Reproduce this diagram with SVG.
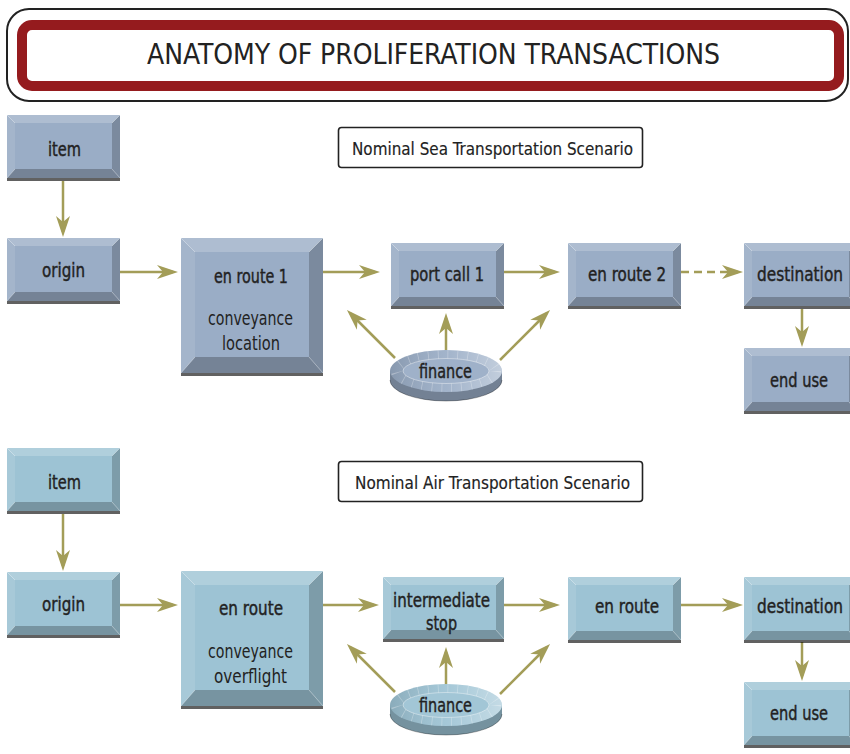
<svg xmlns="http://www.w3.org/2000/svg" width="850" height="754" viewBox="0 0 850 754">
<style>
text{font-family:"DejaVu Sans Condensed","DejaVu Sans",sans-serif;fill:#222;text-anchor:middle}
.lbl{font-size:19px;stroke:#222;stroke-width:0.4}
.sub{font-size:19px}
.scn{font-size:18px;stroke:#222;stroke-width:0.15}
.title{font-size:28px;text-anchor:start}
.sea{fill:#9aadc6}
.air{fill:#9dc3d4}
.con{fill:none;stroke:#a39d58;stroke-width:2.5}
.dash{stroke-dasharray:8 5}
</style>
<defs>
<marker id="ah" markerUnits="userSpaceOnUse" markerWidth="22" markerHeight="16" refX="16" refY="8" orient="auto">
<path d="M0,1 L21,8 L0,15 L6,8 Z" fill="#a39d58"/>
</marker>
<g id="small">
<rect x="0" y="0" width="113" height="63"/>
<polygon points="0,0 113,0 105,8 8,8" fill="#fff" fill-opacity=".2"/>
<polygon points="0,0 8,8 8,54 0,63" fill="#fff" fill-opacity=".1"/>
<polygon points="113,0 113,63 105,54 105,8" fill="#000" fill-opacity=".2"/>
<polygon points="0,63 113,63 105,54 8,54" fill="#000" fill-opacity=".24"/>
<path d="M0,0 L8,8 M113,0 L105,8 M0,63 L8,54 M113,63 L105,54" stroke="#fff" stroke-opacity=".45" stroke-width=".8"/>
<rect x="0" y="63" width="113" height="3" fill="#000" fill-opacity=".62"/>
</g>
<g id="wide">
<rect x="0" y="0" width="121" height="62"/>
<polygon points="0,0 121,0 113,8 8,8" fill="#fff" fill-opacity=".2"/>
<polygon points="0,0 8,8 8,53 0,62" fill="#fff" fill-opacity=".1"/>
<polygon points="121,0 121,62 113,53 113,8" fill="#000" fill-opacity=".2"/>
<polygon points="0,62 121,62 113,53 8,53" fill="#000" fill-opacity=".24"/>
<path d="M0,0 L8,8 M121,0 L113,8 M0,62 L8,53 M121,62 L113,53" stroke="#fff" stroke-opacity=".45" stroke-width=".8"/>
<rect x="0" y="62" width="121" height="3" fill="#000" fill-opacity=".62"/>
</g>
<g id="large">
<rect x="0" y="0" width="142" height="135"/>
<polygon points="0,0 142,0 128,14 14,14" fill="#fff" fill-opacity=".2"/>
<polygon points="0,0 14,14 14,119 0,135" fill="#fff" fill-opacity=".1"/>
<polygon points="142,0 142,135 128,119 128,14" fill="#000" fill-opacity=".2"/>
<polygon points="0,135 142,135 128,119 14,119" fill="#000" fill-opacity=".24"/>
<path d="M0,0 L14,14 M142,0 L128,14 M0,135 L14,119 M142,135 L128,119" stroke="#fff" stroke-opacity=".45" stroke-width=".8"/>
<rect x="0" y="135" width="142" height="3" fill="#000" fill-opacity=".62"/>
</g>
<linearGradient id="dg" x1="0" y1="0" x2="1" y2="0">
<stop offset="0" stop-color="#000" stop-opacity=".12"/>
<stop offset=".5" stop-color="#fff" stop-opacity=".08"/>
<stop offset="1" stop-color="#fff" stop-opacity=".4"/>
</linearGradient>
<clipPath id="dclip"><ellipse cx="0" cy="0" rx="56" ry="21"/></clipPath>
<g id="disk">
<path d="M-56,0 L-56,9 A56,21 0 0 0 56,9 L56,0 Z"/>
<path d="M-56,0 L-56,9 A56,21 0 0 0 56,9 L56,0 Z" fill="#000" fill-opacity=".25"/>
<path d="M-56,9 A56,21 0 0 0 56,9" fill="none" stroke="#000" stroke-opacity=".3" stroke-width="1"/>
<ellipse cx="0" cy="0" rx="56" ry="21"/>
<ellipse cx="0" cy="0" rx="56" ry="21" fill="url(#dg)"/>
<g clip-path="url(#dclip)">
<ellipse cx="0" cy="0" rx="49.5" ry="16.5" fill="none" stroke="#fff" stroke-opacity=".3" stroke-width="11" stroke-dasharray="0.8 9"/>
</g>
<ellipse cx="0" cy="0" rx="43" ry="12.5"/>
<ellipse cx="0" cy="0" rx="43" ry="12.5" fill="#fff" fill-opacity=".06" stroke="#fff" stroke-opacity=".5" stroke-width=".8"/>
</g>
</defs>

<g id="title">
<rect x="7" y="9" width="841" height="92" rx="22" fill="#fff" stroke="#222" stroke-width="2"/>
<rect x="22" y="25" width="817" height="61" rx="10" fill="#fff" stroke="#951b1e" stroke-width="10"/>
<text class="title" x="147" y="64" textLength="573" lengthAdjust="spacing">ANATOMY OF PROLIFERATION TRANSACTIONS</text>
</g>

<g id="connectors">
<line class="con" x1="63" y1="181" x2="63" y2="232" marker-end="url(#ah)"/>
<line class="con" x1="120" y1="272" x2="173" y2="272" marker-end="url(#ah)"/>
<line class="con" x1="323" y1="272" x2="375" y2="272" marker-end="url(#ah)"/>
<line class="con" x1="504" y1="272" x2="555" y2="272" marker-end="url(#ah)"/>
<line class="con dash" x1="681" y1="272" x2="738" y2="272" marker-end="url(#ah)"/>
<line class="con" x1="802" y1="309" x2="802" y2="342" marker-end="url(#ah)"/>
<line class="con" x1="395" y1="358" x2="350.5" y2="313.5" marker-end="url(#ah)"/>
<line class="con" x1="446" y1="352" x2="446" y2="318" marker-end="url(#ah)"/>
<line class="con" x1="500" y1="360" x2="546.5" y2="313.5" marker-end="url(#ah)"/>

<line class="con" x1="63" y1="514" x2="63" y2="566" marker-end="url(#ah)"/>
<line class="con" x1="120" y1="605" x2="173" y2="605" marker-end="url(#ah)"/>
<line class="con" x1="323" y1="605" x2="374" y2="605" marker-end="url(#ah)"/>
<line class="con" x1="504" y1="605" x2="555" y2="605" marker-end="url(#ah)"/>
<line class="con" x1="681" y1="605" x2="738" y2="605" marker-end="url(#ah)"/>
<line class="con" x1="802" y1="642" x2="802" y2="676" marker-end="url(#ah)"/>
<line class="con" x1="395" y1="692" x2="350.5" y2="647.5" marker-end="url(#ah)"/>
<line class="con" x1="446" y1="686" x2="446" y2="652" marker-end="url(#ah)"/>
<line class="con" x1="500" y1="694" x2="546.5" y2="647.5" marker-end="url(#ah)"/>
</g>

<g id="sea-scenario">
<rect x="338.5" y="127.5" width="304" height="40" rx="3" fill="#fff" stroke="#222" stroke-width="1.6"/>
<text class="scn" x="492.5" y="155" textLength="281" lengthAdjust="spacingAndGlyphs">Nominal Sea Transportation Scenario</text>
</g>
<g id="sea-item"><use href="#small" x="7" y="115" class="sea"/><text class="lbl" x="64.5" y="156" textLength="33" lengthAdjust="spacingAndGlyphs">item</text></g>
<g id="sea-origin"><use href="#small" x="7" y="238" class="sea"/><text class="lbl" x="63.5" y="277" textLength="43" lengthAdjust="spacingAndGlyphs">origin</text></g>
<g id="sea-enroute1"><use href="#large" x="181" y="238" class="sea"/><text class="lbl" x="251" y="283" textLength="74" lengthAdjust="spacingAndGlyphs">en route 1</text><text class="sub" x="250.5" y="325" textLength="85" lengthAdjust="spacingAndGlyphs">conveyance</text><text class="sub" x="251" y="350" textLength="58" lengthAdjust="spacingAndGlyphs">location</text></g>
<g id="sea-portcall1"><use href="#small" x="391" y="243" class="sea"/><text class="lbl" x="447" y="281" textLength="74" lengthAdjust="spacingAndGlyphs">port call 1</text></g>
<g id="sea-enroute2"><use href="#small" x="568" y="243" class="sea"/><text class="lbl" x="627" y="281" textLength="78" lengthAdjust="spacingAndGlyphs">en route 2</text></g>
<g id="sea-destination"><use href="#small" x="744" y="243" class="sea"/><text class="lbl" x="800" y="281" textLength="86" lengthAdjust="spacingAndGlyphs">destination</text></g>
<g id="sea-enduse"><use href="#small" x="744" y="348" class="sea"/><text class="lbl" x="799" y="387" textLength="58" lengthAdjust="spacingAndGlyphs">end use</text></g>
<g id="sea-finance"><use href="#disk" x="446" y="371" class="sea"/><text class="lbl" x="445.5" y="378" textLength="53" lengthAdjust="spacingAndGlyphs">finance</text></g>

<g id="air-scenario">
<rect x="338.5" y="461.5" width="304" height="40" rx="3" fill="#fff" stroke="#222" stroke-width="1.6"/>
<text class="scn" x="492.5" y="489" textLength="275" lengthAdjust="spacingAndGlyphs">Nominal Air Transportation Scenario</text>
</g>
<g id="air-item"><use href="#small" x="7" y="448" class="air"/><text class="lbl" x="64.5" y="489" textLength="33" lengthAdjust="spacingAndGlyphs">item</text></g>
<g id="air-origin"><use href="#small" x="7" y="572" class="air"/><text class="lbl" x="63.5" y="611" textLength="43" lengthAdjust="spacingAndGlyphs">origin</text></g>
<g id="air-enroute"><use href="#large" x="181" y="571" class="air"/><text class="lbl" x="251" y="615" textLength="64" lengthAdjust="spacingAndGlyphs">en route</text><text class="sub" x="250.5" y="658" textLength="85" lengthAdjust="spacingAndGlyphs">conveyance</text><text class="sub" x="250.5" y="683" textLength="73" lengthAdjust="spacingAndGlyphs">overflight</text></g>
<g id="air-intermediate"><use href="#wide" x="383" y="577" class="air"/><text class="lbl" x="441.5" y="607" textLength="97" lengthAdjust="spacingAndGlyphs">intermediate</text><text class="lbl" x="441.5" y="630" textLength="31" lengthAdjust="spacingAndGlyphs">stop</text></g>
<g id="air-enroute2"><use href="#small" x="568" y="577" class="air"/><text class="lbl" x="627" y="613" textLength="64" lengthAdjust="spacingAndGlyphs">en route</text></g>
<g id="air-destination"><use href="#small" x="744" y="577" class="air"/><text class="lbl" x="800" y="613" textLength="86" lengthAdjust="spacingAndGlyphs">destination</text></g>
<g id="air-enduse"><use href="#small" x="744" y="682" class="air"/><text class="lbl" x="799" y="720" textLength="58" lengthAdjust="spacingAndGlyphs">end use</text></g>
<g id="air-finance"><use href="#disk" x="446" y="705" class="air"/><text class="lbl" x="445.5" y="712" textLength="53" lengthAdjust="spacingAndGlyphs">finance</text></g>
</svg>
